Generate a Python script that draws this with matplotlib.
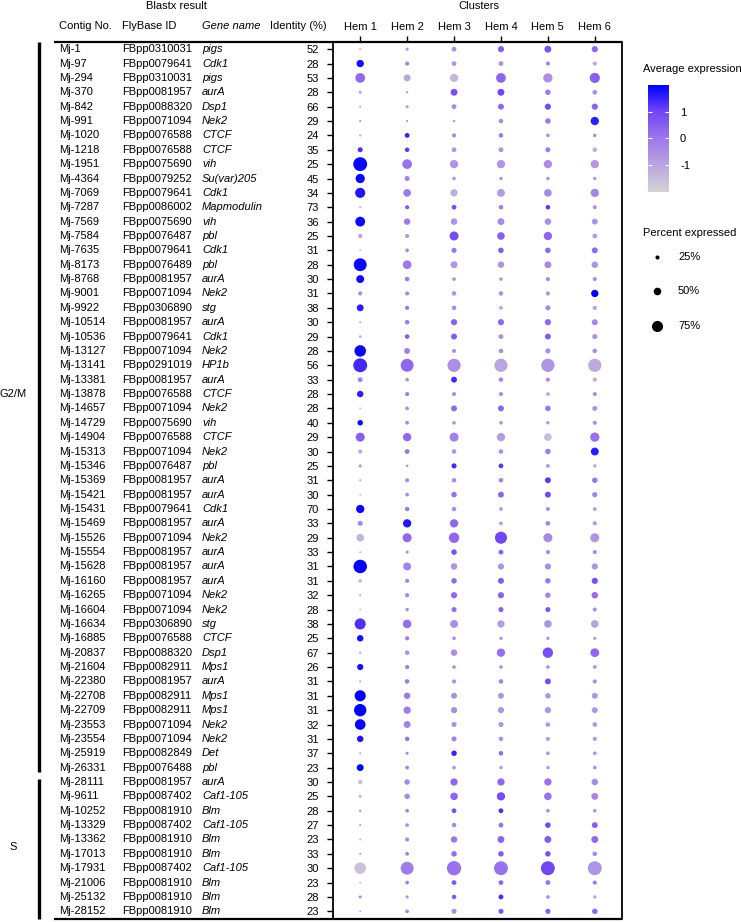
import numpy as np
import matplotlib
matplotlib.use("Agg")
import matplotlib.pyplot as plt
from matplotlib.colors import LinearSegmentedColormap, Normalize
from matplotlib.cm import ScalarMappable
from matplotlib.transforms import blended_transform_factory

plt.rcParams['font.family'] = ['Liberation Sans', 'DejaVu Sans']
plt.rcParams['font.size'] = 8

# ---- data ----
clusters = ["Hem 1", "Hem 2", "Hem 3", "Hem 4", "Hem 5", "Hem 6"]

contigs = ["Mj-1", "Mj-97", "Mj-294", "Mj-370", "Mj-842", "Mj-991", "Mj-1020", "Mj-1218",
           "Mj-1951", "Mj-4364", "Mj-7069", "Mj-7287", "Mj-7569", "Mj-7584", "Mj-7635",
           "Mj-8173", "Mj-8768", "Mj-9001", "Mj-9922", "Mj-10514", "Mj-10536", "Mj-13127",
           "Mj-13141", "Mj-13381", "Mj-13878", "Mj-14657", "Mj-14729", "Mj-14904", "Mj-15313",
           "Mj-15346", "Mj-15369", "Mj-15421", "Mj-15431", "Mj-15469", "Mj-15526", "Mj-15554",
           "Mj-15628", "Mj-16160", "Mj-16265", "Mj-16604", "Mj-16634", "Mj-16885", "Mj-20837",
           "Mj-21604", "Mj-22380", "Mj-22708", "Mj-22709", "Mj-23553", "Mj-23554", "Mj-25919",
           "Mj-26331", "Mj-28111", "Mj-9611", "Mj-10252", "Mj-13329", "Mj-13362", "Mj-17013",
           "Mj-17931", "Mj-21006", "Mj-25132", "Mj-28152"]

flybase = ["FBpp0310031", "FBpp0079641", "FBpp0310031", "FBpp0081957", "FBpp0088320",
           "FBpp0071094", "FBpp0076588", "FBpp0076588", "FBpp0075690", "FBpp0079252",
           "FBpp0079641", "FBpp0086002", "FBpp0075690", "FBpp0076487", "FBpp0079641",
           "FBpp0076489", "FBpp0081957", "FBpp0071094", "FBpp0306890", "FBpp0081957",
           "FBpp0079641", "FBpp0071094", "FBpp0291019", "FBpp0081957", "FBpp0076588",
           "FBpp0071094", "FBpp0075690", "FBpp0076588", "FBpp0071094", "FBpp0076487",
           "FBpp0081957", "FBpp0081957", "FBpp0079641", "FBpp0081957", "FBpp0071094",
           "FBpp0081957", "FBpp0081957", "FBpp0081957", "FBpp0071094", "FBpp0071094",
           "FBpp0306890", "FBpp0076588", "FBpp0088320", "FBpp0082911", "FBpp0081957",
           "FBpp0082911", "FBpp0082911", "FBpp0071094", "FBpp0071094", "FBpp0082849",
           "FBpp0076488", "FBpp0081957", "FBpp0087402", "FBpp0081910", "FBpp0087402",
           "FBpp0081910", "FBpp0081910", "FBpp0087402", "FBpp0081910", "FBpp0081910",
           "FBpp0081910"]

genes = ["pigs", "Cdk1", "pigs", "aurA", "Dsp1", "Nek2", "CTCF", "CTCF", "vih", "Su(var)205",
         "Cdk1", "Mapmodulin", "vih", "pbl", "Cdk1", "pbl", "aurA", "Nek2", "stg", "aurA",
         "Cdk1", "Nek2", "HP1b", "aurA", "CTCF", "Nek2", "vih", "CTCF", "Nek2", "pbl",
         "aurA", "aurA", "Cdk1", "aurA", "Nek2", "aurA", "aurA", "aurA", "Nek2", "Nek2",
         "stg", "CTCF", "Dsp1", "Mps1", "aurA", "Mps1", "Mps1", "Nek2", "Nek2", "Det",
         "pbl", "aurA", "Caf1-105", "Blm", "Caf1-105", "Blm", "Blm", "Caf1-105", "Blm",
         "Blm", "Blm"]

identity = [52, 28, 53, 28, 66, 29, 24, 35, 25, 45, 34, 73, 36, 25, 31, 28, 30, 31, 38, 30,
            29, 28, 56, 33, 28, 28, 40, 29, 30, 25, 31, 30, 70, 33, 29, 33, 31, 31, 32, 28,
            38, 25, 67, 26, 31, 31, 31, 32, 31, 37, 23, 30, 25, 28, 27, 23, 33, 30, 23, 28, 23]

group_names = ["G2/M", "S"]
group_rows = [(0, 50), (51, 60)]     # first and last row of each group
group_label_rows = [24, 55.5]

# percent expressed, one row per contig, columns Hem 1..6
pct = np.array([
    [12, 18, 30, 40, 45, 40], [48, 25, 30, 30, 25, 25], [65, 45, 55, 65, 62, 68],
    [18, 12, 45, 45, 35, 30], [12, 18, 30, 38, 40, 40], [12, 12, 14, 28, 35, 55],
    [12, 30, 25, 28, 22, 20], [32, 28, 30, 30, 32, 28], [95, 65, 55, 55, 55, 55],
    [62, 32, 22, 20, 20, 20], [68, 50, 48, 52, 50, 55], [12, 25, 30, 28, 28, 24],
    [66, 42, 42, 45, 42, 38], [25, 25, 60, 50, 55, 30], [10, 22, 32, 35, 35, 38],
    [88, 58, 45, 42, 45, 42], [52, 28, 22, 20, 25, 25], [25, 25, 28, 28, 25, 48],
    [45, 25, 28, 22, 32, 25], [12, 28, 40, 40, 40, 38], [15, 28, 38, 30, 38, 32],
    [78, 38, 25, 28, 32, 28], [95, 88, 90, 90, 90, 90], [30, 22, 38, 28, 25, 25],
    [42, 25, 25, 25, 22, 25], [10, 22, 38, 38, 35, 30], [35, 22, 22, 22, 20, 25],
    [60, 55, 60, 55, 50, 62], [25, 30, 28, 28, 35, 52], [18, 15, 32, 30, 22, 20],
    [12, 25, 28, 28, 38, 35], [10, 22, 35, 38, 38, 33], [55, 28, 28, 22, 25, 22],
    [32, 55, 55, 22, 30, 25], [50, 60, 70, 82, 60, 60], [10, 18, 35, 30, 25, 25],
    [92, 52, 42, 40, 40, 40], [20, 25, 35, 38, 35, 40], [12, 25, 40, 40, 35, 42],
    [10, 20, 32, 32, 32, 25], [75, 57, 52, 48, 50, 50], [42, 25, 22, 20, 20, 18],
    [12, 28, 42, 55, 70, 58], [40, 25, 22, 22, 22, 22], [12, 28, 25, 28, 38, 25],
    [75, 42, 38, 38, 35, 38], [84, 48, 40, 40, 40, 38], [72, 45, 32, 32, 28, 28],
    [42, 28, 32, 28, 25, 25], [10, 18, 35, 28, 22, 22], [45, 22, 22, 20, 20, 22],
    [28, 35, 48, 48, 48, 42], [20, 35, 50, 55, 50, 45], [15, 22, 30, 30, 22, 22],
    [12, 22, 28, 30, 35, 38], [10, 25, 42, 45, 45, 45], [12, 22, 35, 35, 35, 28],
    [78, 88, 98, 95, 95, 95], [10, 22, 30, 30, 30, 25], [18, 18, 28, 30, 22, 20],
    [10, 22, 32, 32, 32, 35],
])

# scaled average expression
avg = np.array([
    [-1.6, -0.8, -0.5, 0.5, 0.8, 0.3], [1.8, -0.2, -0.6, -0.5, -0.2, -1.0],
    [0.3, -1.0, -1.4, 0.4, -0.5, 0.5], [-1.0, -0.8, 0.8, 1.0, -0.1, -0.6],
    [-1.3, -0.8, -0.4, 0.3, 0.9, 0.4], [-0.9, -0.8, -0.7, -0.4, 0.0, 1.6],
    [-1.2, 1.5, -0.4, 0.0, -0.6, -0.3], [1.3, 1.2, -0.6, -0.5, -0.1, -1.1],
    [1.9, 0.1, -0.6, -0.7, -0.5, -0.7], [1.9, -0.2, -0.7, -0.6, -0.5, -0.6],
    [1.7, 0.0, -1.2, -0.8, -0.4, -0.3], [-1.4, 0.6, 0.8, -0.1, 1.2, -0.5],
    [1.9, -0.1, -0.6, -0.4, -0.5, -0.6], [-0.9, -0.7, 0.9, 0.5, 0.4, -0.8],
    [-1.5, -0.3, 0.1, 0.6, 0.3, 0.3], [1.9, 0.0, -0.6, -0.6, -0.4, -0.6],
    [1.9, -0.1, -0.6, -0.5, -0.3, -0.5], [-0.5, -0.4, -0.6, -0.6, -0.5, 2.0],
    [1.6, 0.1, -0.4, -0.8, -0.3, -0.9], [-1.4, -0.1, 0.5, 0.3, 0.3, -0.3],
    [-1.0, 0.6, 0.6, -0.5, 0.6, -0.5], [1.9, -0.2, -0.6, -0.5, -0.4, -0.5],
    [1.4, 0.3, -0.5, -1.0, -0.6, -1.1], [-0.2, -0.5, 1.4, -0.3, -0.4, -1.1],
    [1.6, -0.1, -0.5, -0.4, -0.9, -0.5], [-1.5, -0.4, 0.3, 0.4, 0.1, -0.5],
    [1.9, -0.2, -0.6, -0.6, -0.7, -0.5], [0.5, 0.3, -0.2, -0.8, -1.5, 0.1],
    [-1.0, 0.1, -0.6, -0.5, -0.1, 1.6], [-0.7, -0.6, 1.4, 1.2, -0.6, -1.0],
    [-1.3, -0.4, -0.5, -0.2, 1.2, 0.0], [-1.4, -0.3, 0.2, 0.4, 1.0, -0.3],
    [1.9, -0.1, -0.5, -0.6, -0.5, -0.7], [-0.4, 1.7, 0.3, -0.7, -0.4, -0.7],
    [-1.3, 0.3, 0.3, 1.0, -0.4, -0.6], [-1.5, -0.5, 0.8, 0.5, -0.4, -0.4],
    [2.0, -0.2, -0.6, -0.6, -0.5, -0.6], [-1.2, -0.3, 0.3, 0.6, 0.0, 0.8],
    [-1.3, -0.3, 0.3, 0.4, -0.3, 0.2], [-1.5, -0.4, 0.2, 0.5, 0.7, -0.5],
    [1.3, 0.2, -0.5, -0.8, -0.6, -0.9], [1.8, -0.1, -0.5, -0.6, -0.6, -0.6],
    [-1.0, -0.5, -0.5, 0.2, 0.8, 0.3], [1.8, -0.1, -0.6, -0.6, -0.6, -0.6],
    [-1.2, 0.0, -0.5, -0.2, 0.9, -0.4], [2.0, -0.1, -0.5, -0.6, -0.6, -0.6],
    [2.0, -0.1, -0.5, -0.6, -0.6, -0.6], [1.9, -0.2, -0.5, -0.6, -0.6, -0.6],
    [1.7, 0.1, -0.3, -0.5, -0.8, -0.7], [-1.0, -0.4, 1.5, 0.3, -0.6, -0.6],
    [2.0, -0.2, -0.6, -0.7, -0.7, -0.5], [-1.6, -0.4, 0.3, 0.3, 0.1, -0.4],
    [-1.5, -0.4, 0.3, 0.9, 0.1, -0.3], [-1.0, -0.2, 0.8, 1.3, -0.5, -0.7],
    [-1.2, -0.4, -0.4, 0.2, 1.0, 0.5], [-1.4, -0.4, 0.0, 0.4, 0.6, 0.3],
    [-1.2, -0.1, 0.2, 0.6, 0.8, -0.4], [-1.6, -0.1, 0.1, 0.1, 1.0, -0.6],
    [-1.4, -0.1, 0.6, 0.3, 0.1, 0.0], [-0.5, -0.5, 0.6, 1.4, -0.5, -1.0],
    [-1.2, -0.4, -0.4, 0.7, 0.6, 0.3],
])

legend_pct = [25, 50, 75]
cbar_ticks = [-1, 0, 1]

# ---- styling ----
W, H = 741, 922
cmap = LinearSegmentedColormap.from_list(
    "grey_blue", ["#D3D3D3", "#BBA5E0", "#9D77EC", "#7147F5", "#0000FF"])
norm = Normalize(vmin=-2, vmax=2)


def dot_size(p):
    # diameter in px ~ 0.14 * percent + 0.6, converted to points^2
    return ((np.asarray(p) * 0.14 + 0.6) * 0.72) ** 2


fig = plt.figure(figsize=(W / 100, H / 100), dpi=100)

top_px, bot_px = 42, 918.5
ax = fig.add_axes([333 / W, 1 - bot_px / H, (622 - 333) / W, (bot_px - top_px) / H])
n_rows = len(contigs)
rows = np.arange(n_rows)
cols = np.arange(len(clusters))
xx, yy = np.meshgrid(cols, rows)
ax.scatter(xx.ravel(), yy.ravel(), s=dot_size(pct.ravel()), c=avg.ravel(),
           cmap=cmap, norm=norm, linewidths=0, zorder=3)
ax.set_xlim(-0.58, len(clusters) - 1 + 0.58)
ax.set_ylim(n_rows - 0.5, -0.5)

ax.xaxis.tick_top()
ax.set_xticks(cols)
ax.set_xticklabels(clusters, fontsize=8)
ax.tick_params(axis='x', length=4, width=1, pad=3)
ax.set_yticks(rows)
ax.set_yticklabels([str(v) for v in identity], fontsize=8)
ax.tick_params(axis='y', length=4, width=1, pad=6)
for side in ['top', 'bottom']:
    ax.spines[side].set_visible(False)
for side in ['left', 'right']:
    ax.spines[side].set_linewidth(1.3)

# overlay in pixel coordinates for table lines, headers and brackets
ov = fig.add_axes([0, 0, 1, 1])
ov.set_xlim(0, W)
ov.set_ylim(H, 0)
ov.axis('off')
ov.patch.set_alpha(0)

ov.plot([54, 622], [top_px, top_px], color='black', lw=1.6, solid_capstyle='butt')
ov.plot([54, 622], [bot_px, bot_px], color='black', lw=1.6, solid_capstyle='butt')

ov.text(176, 6, "Blastx result", ha='center', va='center', fontsize=8)
ov.text(479, 6, "Clusters", ha='center', va='center', fontsize=8)
ov.text(59, 26, "Contig No.", ha='left', va='center', fontsize=8)
ov.text(122, 26, "FlyBase ID", ha='left', va='center', fontsize=8)
ov.text(202, 26, "Gene name", ha='left', va='center', fontsize=8, fontstyle='italic')
ov.text(270, 26, "Identity (%)", ha='left', va='center', fontsize=8)

# table columns aligned to the dot rows
tr = blended_transform_factory(ov.transData, ax.transData)
for i in rows:
    ov.text(59, i, contigs[i], transform=tr, ha='left', va='center', fontsize=8)
    ov.text(122, i, flybase[i], transform=tr, ha='left', va='center', fontsize=8)
    ov.text(202, i, genes[i], transform=tr, ha='left', va='center', fontsize=8,
            fontstyle='italic')

# group brackets
for name, (r0, r1), lr in zip(group_names, group_rows, group_label_rows):
    y0 = r0 - 0.5 + (0.0 if r0 == 0 else 0.3)
    y1 = r1 + 0.5 - (0.0 if r1 == n_rows - 1 else 0.2)
    ov.plot([39, 39], [y0, y1], transform=tr, color='black', lw=2.4, solid_capstyle='butt')
    ov.text(13, lr, name, transform=tr, ha='center', va='center', fontsize=8)

# colour legend
ov.text(643, 69, "Average expression", ha='left', va='center', fontsize=8)
cax = fig.add_axes([648 / W, 1 - 192 / H, 21 / W, 107 / H])
cb = fig.colorbar(ScalarMappable(norm=norm, cmap=cmap), cax=cax)
cb.outline.set_visible(False)
cb.set_ticks(cbar_ticks)
cb.set_ticklabels([str(t) for t in cbar_ticks])
cax.tick_params(direction='in', length=3, width=0.8, color='white', left=True,
                right=True, labelsize=8, pad=8)

# size legend
ov.text(643, 233, "Percent expressed", ha='left', va='center', fontsize=8)
for p, y in zip(legend_pct, [257, 291, 326]):
    ov.scatter([657], [y], s=dot_size(p), color='black', linewidths=0)
    ov.text(678, y, f"{p}%", ha='left', va='center', fontsize=8)

fig.savefig("out.png", dpi=100)
